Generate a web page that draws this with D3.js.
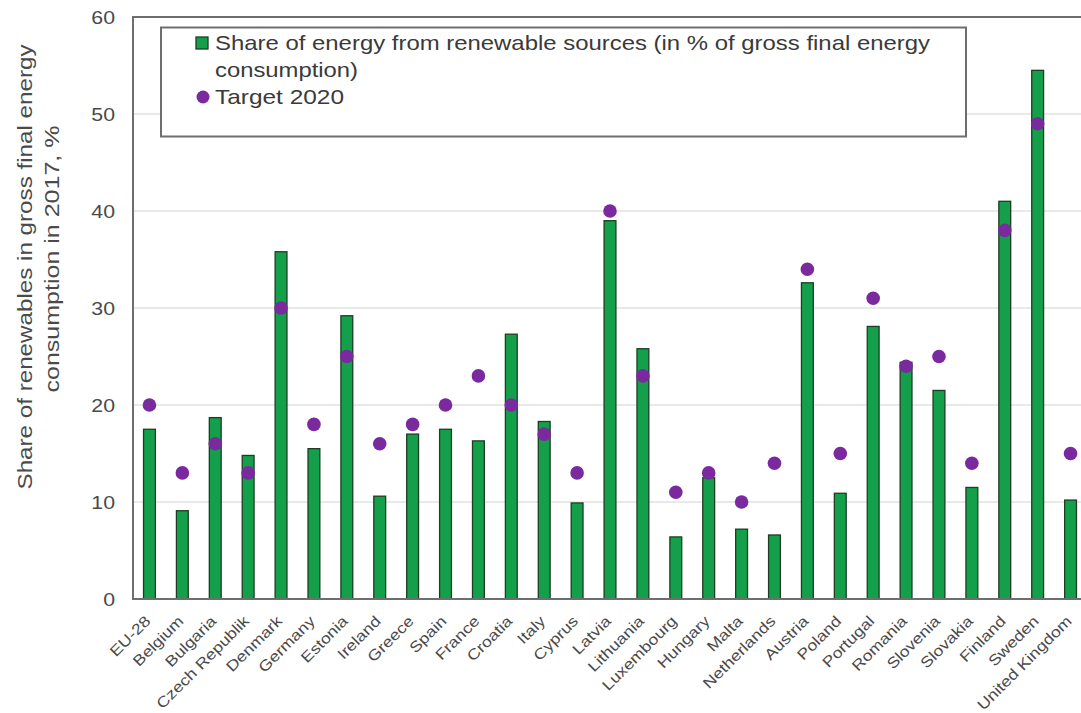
<!DOCTYPE html>
<html>
<head>
<meta charset="utf-8">
<script src="https://cdn.jsdelivr.net/npm/d3@7/dist/d3.min.js"></script>
<style>
  html, body { margin: 0; padding: 0; background: #fff; }
  svg { display: block; font-family: "Liberation Sans", Arial, sans-serif; }
</style>
</head>
<body>
<svg id="chart" width="1081" height="713"></svg>
<script>
// Renewable energy share per country (2017) and national 2020 targets
const countries = ["EU-28", "Belgium", "Bulgaria", "Czech Republik", "Denmark", "Germany", "Estonia",
  "Ireland", "Greece", "Spain", "France", "Croatia", "Italy", "Cyprus", "Latvia", "Lithuania",
  "Luxembourg", "Hungary", "Malta", "Netherlands", "Austria", "Poland", "Portugal", "Romania",
  "Slovenia", "Slovakia", "Finland", "Sweden", "United Kingdom"];
const share2017 = [17.5, 9.1, 18.7, 14.8, 35.8, 15.5, 29.2, 10.6, 17.0, 17.5, 16.3, 27.3, 18.3, 9.9,
  39.0, 25.8, 6.4, 12.5, 7.2, 6.6, 32.6, 10.9, 28.1, 24.4, 21.5, 11.5, 41.0, 54.5, 10.2];
const target2020 = [20, 13, 16, 13, 30, 18, 25, 16, 18, 20, 23, 20, 17, 13, 40, 23, 11, 13, 10, 14,
  34, 15, 31, 24, 25, 14, 38, 49, 15];
const yTicks = [0, 10, 20, 30, 40, 50, 60];
const legendShare = ["Share of energy from renewable sources (in % of gross final energy", "consumption)"];
const legendTarget = "Target 2020";
const yTitle = ["Share of renewables in gross final energy", "consumption in 2017, %"];

const svg = d3.select("#chart");
const plot = { left: 133, right: 1087, top: 17, bottom: 599 };

const x = d3.scaleBand().domain(countries).range([plot.left, plot.right])
  .paddingInner(0.64).paddingOuter(0.32);
const y = d3.scaleLinear().domain([0, 60]).range([plot.bottom, plot.top]);

const textCol = "#4a4a4a";

// stretch a text node horizontally by a factor
function stretch(sel, factor) {
  sel.each(function () {
    const w = this.getComputedTextLength();
    d3.select(this).attr("textLength", w * factor).attr("lengthAdjust", "spacingAndGlyphs");
  });
}

// horizontal gridlines
svg.append("g").selectAll("line").data(yTicks.filter(t => t > 0 && t < 60)).join("line")
  .attr("x1", plot.left).attr("x2", plot.right)
  .attr("y1", d => y(d)).attr("y2", d => y(d))
  .attr("stroke", "#e2e2e2").attr("stroke-width", 1.5);

// y-axis tick labels
const yAxis = d3.axisLeft(y).tickValues(yTicks).tickSize(0).tickPadding(18);
const gy = svg.append("g").attr("transform", `translate(${plot.left},0)`).call(yAxis);
gy.select(".domain").remove();
gy.selectAll("text").attr("font-size", 19).attr("fill", textCol)
  .attr("font-family", "Liberation Sans, Arial, sans-serif");
stretch(gy.selectAll("text"), 1.12);

// bars
svg.append("g").selectAll("rect").data(countries).join("rect")
  .attr("x", d => x(d))
  .attr("y", (d, i) => y(share2017[i]))
  .attr("width", x.bandwidth())
  .attr("height", (d, i) => y(0) - y(share2017[i]))
  .attr("fill", "#14a04a")
  .attr("stroke", "#1d3d24").attr("stroke-width", 1.3);

// target markers
svg.append("g").selectAll("circle").data(countries).join("circle")
  .attr("cx", d => x(d) + x.bandwidth() / 2)
  .attr("cy", (d, i) => y(target2020[i]))
  .attr("r", 6.8)
  .attr("fill", "#7a2a9e");

// plot frame: top, left and bottom edges
svg.append("path")
  .attr("d", `M${plot.right},${plot.top}H${plot.left}V${plot.bottom}H${plot.right}`)
  .attr("fill", "none").attr("stroke", "#6e6e6e").attr("stroke-width", 2);

// x-axis category labels, rotated
const xAxis = d3.axisBottom(x).tickSize(0).tickPadding(0);
const gx = svg.append("g").attr("transform", `translate(0,${plot.bottom})`).call(xAxis);
gx.select(".domain").remove();
gx.selectAll("text")
  .attr("font-size", 15).attr("fill", textCol)
  .attr("font-family", "Liberation Sans, Arial, sans-serif")
  .attr("text-anchor", "end")
  .attr("dy", null)
  .attr("transform", "translate(2,23) rotate(-45)");
stretch(gx.selectAll("text"), 1.18);

// y-axis title
const yt = svg.append("text")
  .attr("transform", "rotate(-90)")
  .attr("text-anchor", "middle").attr("font-size", 20).attr("fill", textCol);
yt.append("tspan").attr("x", -267).attr("y", 32).text(yTitle[0])
  .attr("textLength", 445).attr("lengthAdjust", "spacingAndGlyphs");
yt.append("tspan").attr("x", -259).attr("y", 59).text(yTitle[1])
  .attr("textLength", 267).attr("lengthAdjust", "spacingAndGlyphs");

// legend
const lg = svg.append("g");
lg.append("rect").attr("x", 161).attr("y", 27.5).attr("width", 805).attr("height", 109)
  .attr("fill", "#fff").attr("stroke", "#6e6e6e").attr("stroke-width", 2);
lg.append("rect").attr("x", 196).attr("y", 37).attr("width", 12).attr("height", 12)
  .attr("fill", "#14a04a").attr("stroke", "#1d3d24").attr("stroke-width", 1.3);
lg.append("circle").attr("cx", 203).attr("cy", 97).attr("r", 6.5).attr("fill", "#7a2a9e");
const legendLines = [
  { t: legendShare[0], y: 50, w: 715 },
  { t: legendShare[1], y: 77, w: 143 },
  { t: legendTarget, y: 104, w: 129 }
];
lg.selectAll("text.lab").data(legendLines).join("text").attr("class", "lab")
  .attr("x", 215).attr("y", d => d.y)
  .attr("font-size", 21).attr("fill", "#3a3a3a")
  .attr("textLength", d => d.w).attr("lengthAdjust", "spacingAndGlyphs")
  .text(d => d.t);
</script>
</body>
</html>
